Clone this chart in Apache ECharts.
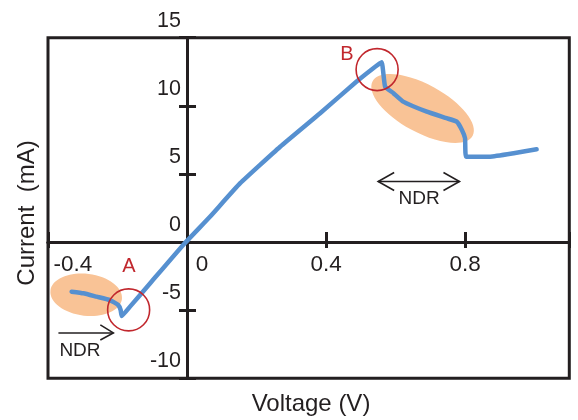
<!DOCTYPE html>
<html>
<head>
<meta charset="UTF-8">
<title>I-V curve</title>
<script src="https://cdn.jsdelivr.net/npm/echarts@6/dist/echarts.min.js"></script>
</head>
<body style="margin:0;background:#fff;">
<div id="main" style="width:578px;height:420px;"></div>
<script>
// values
var voltage = [-0.332, -0.298, -0.260, -0.222, -0.198, -0.191, -0.188, -0.164, -0.106, -0.011,
  0.066, 0.153, 0.268, 0.383, 0.488, 0.536, 0.560, 0.570, 0.594, 0.622,
  0.690, 0.747, 0.776, 0.791, 0.800, 0.803, 0.872, 0.940, 1.006];
var current = [-3.64, -3.76, -4.01, -4.26, -4.62, -4.99, -5.43, -4.74, -3.02, -0.21,
  1.86, 4.32, 7.00, 9.46, 11.78, 12.76, 13.2, 11.41, 10.93, 10.31,
  9.57, 9.09, 8.84, 8.23, 7.62, 6.27, 6.27, 6.52, 6.81];

var xTicks = [-0.4, 0, 0.4, 0.8];
var yTicks = [-10, -5, 0, 5, 10, 15];

var xMin = -0.4, xMax = 1.1, yMin = -10, yMax = 15;

var ink = '#231F20';
var blue = '#5690D0';
var red = '#C1272D';
var peach = '#F9C396';
var font = 'Liberation Sans';

var W = 578, H = 420;
var gLeft = 48, gTop = 37.7, gRight = 8.7, gBottom = 41.7;
var gW = W - gLeft - gRight, gH = H - gTop - gBottom;
// move the axes from the grid edge to the zero lines
var yAxisShift = -gW * (0 - xMin) / (xMax - xMin);
var xAxisShift = -gH * (0 - yMin) / (yMax - yMin);

var seriesData = [];
for (var i = 0; i < voltage.length; i++) {
  seriesData.push([voltage[i], current[i]]);
}

function xLabel(v) {
  if (Math.abs(v + 0.4) < 1e-6) return '{a|-0.4}';
  if (Math.abs(v) < 1e-6) return '{b|0}';
  for (var k = 0; k < xTicks.length; k++) {
    if (Math.abs(v - xTicks[k]) < 1e-6) return String(xTicks[k]);
  }
  return '';
}

function yLabel(v) {
  for (var k = 0; k < yTicks.length; k++) {
    if (Math.abs(v - yTicks[k]) < 1e-6) return String(yTicks[k]);
  }
  return '';
}

var lineCfg = { onZero: false, lineStyle: { color: ink, width: 3 } };

var option = {
  animation: false,
  grid: {
    left: gLeft, top: gTop, right: gRight, bottom: gBottom,
    show: true, borderColor: ink, borderWidth: 3, backgroundColor: 'transparent',
    outerBoundsMode: 'none'
  },
  xAxis: [{
    type: 'value', position: 'bottom', offset: xAxisShift,
    min: xMin, max: xMax, interval: 0.4,
    axisLine: lineCfg,
    splitLine: { show: false },
    axisTick: { show: true, length: 6, lineStyle: { color: ink, width: 3 } },
    axisLabel: {
      margin: 11, fontSize: 22.5, color: ink, fontFamily: font,
      formatter: xLabel,
      rich: {
        a: { fontSize: 22.5, color: ink, fontFamily: font, padding: [0, 0, 0, 50] },
        b: { fontSize: 22.5, color: ink, fontFamily: font, padding: [0, 0, 0, 30] }
      }
    }
  }, {
    type: 'value', position: 'bottom', offset: xAxisShift,
    min: xMin, max: xMax, interval: 0.4,
    axisLine: lineCfg,
    splitLine: { show: false },
    axisTick: { show: true, inside: true, length: 10, lineStyle: { color: ink, width: 3 } },
    axisLabel: { show: false }
  }],
  yAxis: [{
    type: 'value', position: 'left', offset: yAxisShift,
    min: yMin, max: yMax, interval: 5,
    axisLine: lineCfg,
    splitLine: { show: false },
    axisTick: { show: true, length: 8, lineStyle: { color: ink, width: 3 } },
    axisLabel: {
      margin: 6, fontSize: 21.5, color: ink, fontFamily: font,
      formatter: yLabel,
      verticalAlign: 'bottom', padding: [0, 0, 6, 0]
    }
  }, {
    type: 'value', position: 'left', offset: yAxisShift,
    min: yMin, max: yMax, interval: 5,
    axisLine: lineCfg,
    splitLine: { show: false },
    axisTick: { show: true, inside: true, length: 9, lineStyle: { color: ink, width: 3 } },
    axisLabel: { show: false }
  }],
  series: [{
    type: 'line',
    xAxisIndex: 0,
    yAxisIndex: 0,
    data: seriesData,
    showSymbol: false,
    smooth: 0.12,
    z: 5,
    lineStyle: { color: blue, width: 4.5, cap: 'round', join: 'round' }
  }]
};

var chart = echarts.init(document.getElementById('main'));
chart.setOption(option);

function px(x, y) {
  return chart.convertToPixel({ xAxisIndex: 0, yAxisIndex: 0 }, [x, y]);
}

// annotation anchors in data units
var ellipseA = [-0.29, -3.87];
var ellipseB = [0.678, 9.8];
var circleA = [-0.168, -4.98];
var circleB = [0.547, 12.66];
var labelA = [-0.167, -1.81];
var labelB = [0.460, 13.79];
var ndrLeftText = [-0.308, -7.97];
var ndrRightText = [0.668, 3.19];
var arrowLeft = [[-0.370, -6.67], [-0.212, -6.67]];
var arrowRight = [[0.550, 4.44], [0.784, 4.44]];

var eA = px(ellipseA[0], ellipseA[1]);
var eB = px(ellipseB[0], ellipseB[1]);
var cA = px(circleA[0], circleA[1]);
var cB = px(circleB[0], circleB[1]);
var tA = px(labelA[0], labelA[1]);
var tB = px(labelB[0], labelB[1]);
var nL = px(ndrLeftText[0], ndrLeftText[1]);
var nR = px(ndrRightText[0], ndrRightText[1]);
var aL0 = px(arrowLeft[0][0], arrowLeft[0][1]);
var aL1 = px(arrowLeft[1][0], arrowLeft[1][1]);
var aR0 = px(arrowRight[0][0], arrowRight[0][1]);
var aR1 = px(arrowRight[1][0], arrowRight[1][1]);

var thin = { stroke: ink, lineWidth: 1.6, fill: null };

chart.setOption({
  graphic: [
    { type: 'ellipse', z: 1, x: eA[0], y: eA[1], rotation: -0.12,
      shape: { cx: 0, cy: 0, rx: 36, ry: 21 }, style: { fill: peach } },
    { type: 'ellipse', z: 1, x: eB[0], y: eB[1], rotation: -0.5,
      shape: { cx: 0, cy: 0, rx: 57, ry: 24 }, style: { fill: peach } },
    { type: 'circle', z: 10, shape: { cx: cA[0], cy: cA[1], r: 21 },
      style: { fill: null, stroke: red, lineWidth: 1.6 } },
    { type: 'circle', z: 10, shape: { cx: cB[0], cy: cB[1], r: 21 },
      style: { fill: null, stroke: red, lineWidth: 1.6 } },
    { type: 'text', z: 10, x: tA[0], y: tA[1],
      style: { text: 'A', fill: red, font: '20px "Liberation Sans"', textAlign: 'center', textVerticalAlign: 'middle' } },
    { type: 'text', z: 10, x: tB[0], y: tB[1],
      style: { text: 'B', fill: red, font: '20px "Liberation Sans"', textAlign: 'center', textVerticalAlign: 'middle' } },
    { type: 'text', z: 10, x: nL[0], y: nL[1],
      style: { text: 'NDR', fill: ink, font: '19px "Liberation Sans"', textAlign: 'center', textVerticalAlign: 'middle' } },
    { type: 'text', z: 10, x: nR[0], y: nR[1],
      style: { text: 'NDR', fill: ink, font: '19px "Liberation Sans"', textAlign: 'center', textVerticalAlign: 'middle' } },
    // left arrow
    { type: 'line', z: 10, shape: { x1: aL0[0], y1: aL0[1], x2: aL1[0], y2: aL1[1] }, style: thin },
    { type: 'polyline', z: 10, shape: { points: [[aL1[0] - 13, aL1[1] - 8], [aL1[0], aL1[1]], [aL1[0] - 13, aL1[1] + 7]] }, style: thin },
    // double arrow
    { type: 'line', z: 10, shape: { x1: aR0[0], y1: aR0[1], x2: aR1[0], y2: aR1[1] }, style: thin },
    { type: 'polyline', z: 10, shape: { points: [[aR0[0] + 16, aR0[1] - 9], [aR0[0], aR0[1]], [aR0[0] + 16, aR0[1] + 9]] }, style: thin },
    { type: 'polyline', z: 10, shape: { points: [[aR1[0] - 16, aR1[1] - 9], [aR1[0], aR1[1]], [aR1[0] - 16, aR1[1] + 9]] }, style: thin },
    // axis titles
    { type: 'text', x: 311, y: 404,
      style: { text: 'Voltage (V)', fill: ink, font: '24px "Liberation Sans"', textAlign: 'center', textVerticalAlign: 'middle' } },
    { type: 'text', x: 27, y: 213, rotation: Math.PI / 2,
      style: { text: 'Current  (mA)', fill: ink, font: '24px "Liberation Sans"', textAlign: 'center', textVerticalAlign: 'middle' } }
  ]
});
</script>
</body>
</html>
